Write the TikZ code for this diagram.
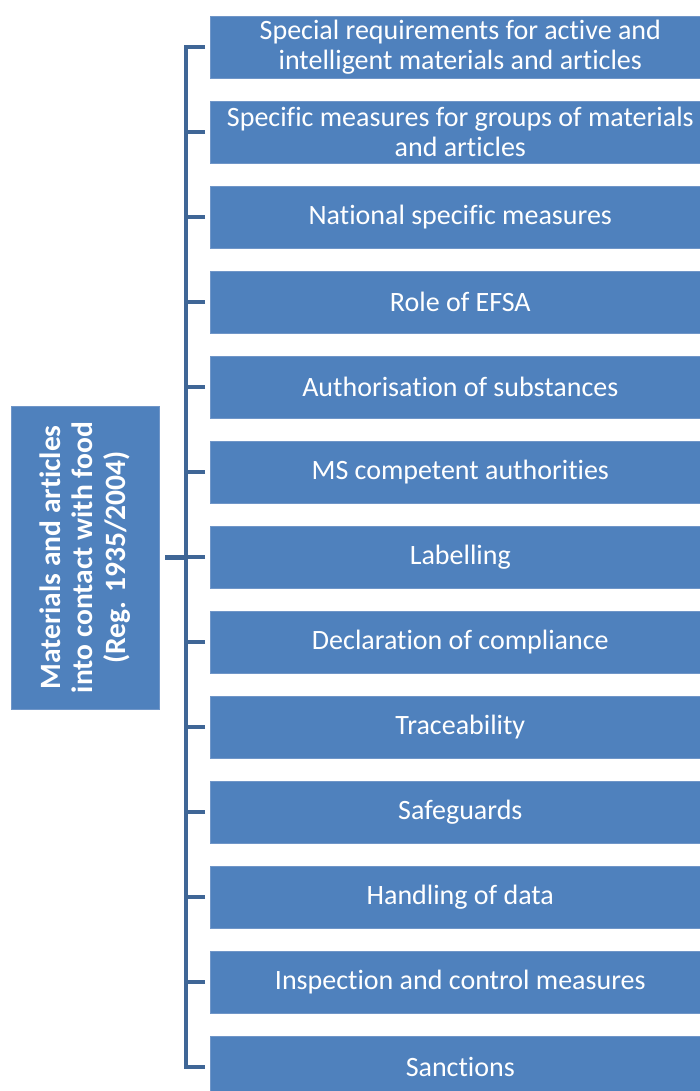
\documentclass[tikz,border=0pt]{standalone}
\usepackage{fontspec}
\setmainfont{Carlito}[Ligatures={NoCommon}]
\definecolor{boxblue}{HTML}{4F81BD}
\definecolor{boxedge}{HTML}{7096C8}
\definecolor{brk}{HTML}{3F6696}
\tikzset{
  itembox/.style={fill=boxblue, draw=boxedge, line width=0.6pt, text=white,
    minimum width=500pt, minimum height=62pt, anchor=west, inner sep=0pt,
    align=center, font=\fontsize{28}{30}\selectfont},
  mainbox/.style={fill=boxblue, draw=boxedge, line width=0.6pt, text=white,
    minimum width=303pt, minimum height=148pt, rotate=90, inner sep=0pt,
    align=center, font=\bfseries\fontsize{29.5}{32.5}\selectfont},
  bracket/.style={draw=brk, line width=4.5pt}
}
\begin{document}
\begin{tikzpicture}[x=1pt,y=-1pt]
\useasboundingbox (0,0) rectangle (700,1091);
\node[mainbox] (main) at (85,557.5) {Materials and articles\\into contact with food\\(Reg. 1935/2004)};
\node[itembox] (b1) at (210,47) {Special requirements for active and\\intelligent materials and articles};
\node[itembox] (b2) at (210,132) {Specific measures for groups of materials\\and articles};
\node[itembox] (b3) at (210,217) {National specific measures};
\node[itembox] (b4) at (210,302) {Role of EFSA};
\node[itembox] (b5) at (210,387) {Authorisation of substances};
\node[itembox] (b6) at (210,472) {MS competent authorities};
\node[itembox] (b7) at (210,557) {Labelling};
\node[itembox] (b8) at (210,642) {Declaration of compliance};
\node[itembox] (b9) at (210,727) {Traceability};
\node[itembox] (b10) at (210,812) {Safeguards};
\node[itembox] (b11) at (210,897) {Handling of data};
\node[itembox] (b12) at (210,982) {Inspection and control measures};
\node[itembox] (b13) at (210,1067) {Sanctions};
\draw[bracket] ([xshift=-5pt]b1.west) -- ++(-19,0) |- ([xshift=-5pt]b13.west);
\foreach \i in {2,...,12} {
  \draw[bracket] ([xshift=-5pt]b\i.west) -- ++(-19,0);
}
\draw[bracket] ([xshift=6pt]main.south) -- ++(20,0);
\end{tikzpicture}
\end{document}
